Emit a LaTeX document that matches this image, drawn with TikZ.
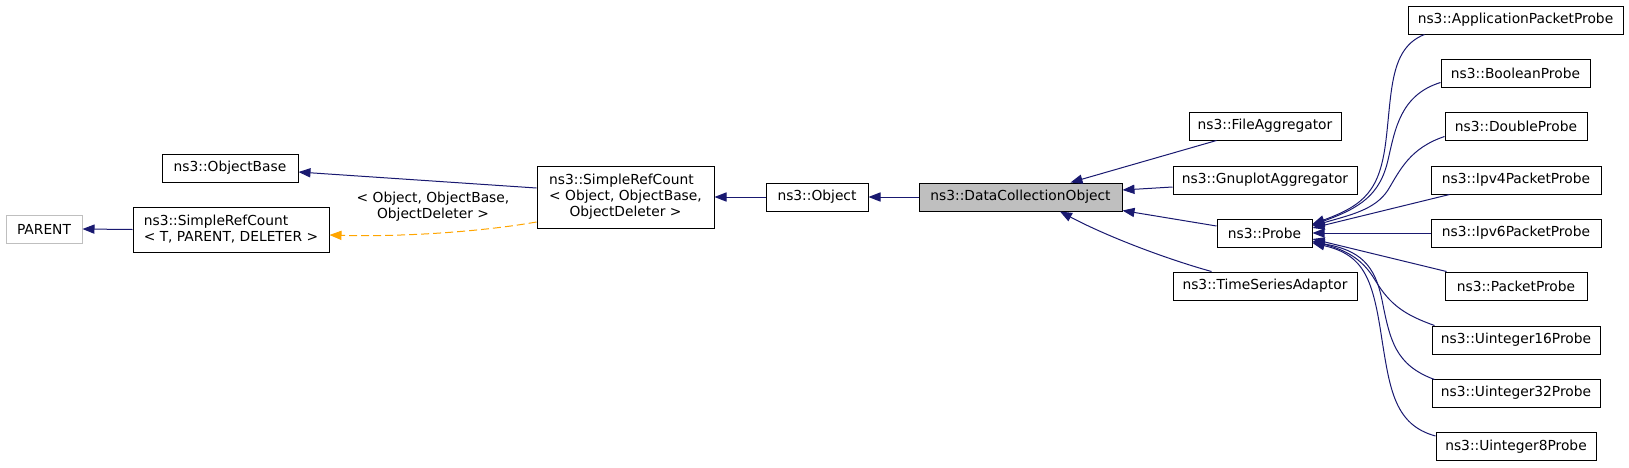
\documentclass[tikz,border=0pt]{standalone}
\usepackage{fontspec}
\setmainfont{DejaVu Sans}
\usetikzlibrary{arrows.meta,calc}
\definecolor{edgeblue}{HTML}{191970}
\definecolor{dorange}{HTML}{FFA500}
\definecolor{gfill}{HTML}{BFBFBF}
\begin{document}
\begin{tikzpicture}[x=0.5pt,y=-0.5pt,
  box/.style={draw=black, line width=0.5pt, inner sep=0pt, minimum height=14pt, font=\fontsize{6.9}{8}\selectfont},
  edge/.style={draw=edgeblue, line width=0.5pt, -{Triangle[length=6pt,width=4.6pt]}, fill=none},
  dedge/.style={draw=dorange, line width=0.5pt, dash pattern=on 4pt off 2pt, -{Triangle[length=6pt,width=4.6pt,fill=dorange]}},
  lbl/.style={inner sep=0pt, align=center, font=\fontsize{6.9}{8}\selectfont}]
\useasboundingbox (0,0) rectangle (1629,467);
% nodes
\node[box, draw=gfill, minimum width=38pt] (parent) at (44,229) {PARENT};
\node[box, minimum width=98pt, minimum height=22.5pt, align=left] (srct) at (231,229.5) {ns3::SimpleRefCount\\< T, PARENT, DELETER >};
\node[box, minimum width=68pt] (objbase) at (230,168) {ns3::ObjectBase};
\node[box, minimum width=88.5pt, minimum height=31pt] (srco) at (625.5,197) {\begin{tabular}{@{}l@{}}ns3::SimpleRefCount\\< Object, ObjectBase,\\\multicolumn{1}{@{}c@{}}{ObjectDeleter >}\end{tabular}};
\node[box, minimum width=51pt] (object) at (817,197) {ns3::Object};
\node[box, fill=gfill, minimum width=101.5pt] (dco) at (1020.5,197) {ns3::DataCollectionObject};
\node[box, minimum width=76pt] (fagg) at (1265,126) {ns3::FileAggregator};
\node[box, minimum width=92pt] (gagg) at (1265,180) {ns3::GnuplotAggregator};
\node[box, minimum width=47.5pt] (probe) at (1264.5,233) {ns3::Probe};
\node[box, minimum width=92pt] (tsa) at (1265,286) {ns3::TimeSeriesAdaptor};
\node[box, minimum width=107.5pt] (app) at (1515.5,20) {ns3::ApplicationPacketProbe};
\node[box, minimum width=74.5pt] (bool) at (1515.5,73) {ns3::BooleanProbe};
\node[box, minimum width=71pt] (dbl) at (1516,126) {ns3::DoubleProbe};
\node[box, minimum width=85pt] (ipv4) at (1516,180) {ns3::Ipv4PacketProbe};
\node[box, minimum width=85pt] (ipv6) at (1516,233) {ns3::Ipv6PacketProbe};
\node[box, minimum width=71pt] (pkt) at (1516,286) {ns3::PacketProbe};
\node[box, minimum width=84pt] (u16) at (1516,340) {ns3::Uinteger16Probe};
\node[box, minimum width=84pt] (u32) at (1516,393) {ns3::Uinteger32Probe};
\node[box, minimum width=80pt] (u8) at (1516,446.5) {ns3::Uinteger8Probe};
\node[lbl] (tlabel) at (433,207) {< Object, ObjectBase,\\ObjectDeleter >};
% left edges
\draw[edge] (srct.west) -- (parent.east);
\draw[edge] ($(srco.west)+(0,-9)$) -- ($(objbase.east)+(0,4)$);
\draw[dedge] ($(srco.west)+(0,25)$) .. controls (480,232) and (400,237) .. ($(srct.east)+(0,5.5)$);
\draw[edge] (object.west) -- (srco.east);
\draw[edge] (dco.west) -- (object.east);
% DCO children
\draw[edge] ($(fagg.south west)+(28,0)$) -- ($(dco.north east)+(-52,0)$);
\draw[edge] ($(gagg.west)+(0,7)$) -- ($(dco.east)+(0,-7)$);
\draw[edge] ($(probe.west)+(0,-7)$) -- ($(dco.south east)+(0,-1)$);
\draw[edge] ($(tsa.north west)+(39,0)$) .. controls (1170,260) and (1110,238) .. ($(dco.south)+(39.5,0)$);
% Probe children
\draw[edge] ($(app.south west)+(17,0)$) .. controls (1390,48) and (1392,90) .. (1386,140) .. controls (1380,190) and (1365,205) .. ($(probe.east)+(0,-9)$);
\draw[edge] ($(bool.south west)+(0,-5)$) .. controls (1400,95) and (1395,130) .. (1388,160) .. controls (1380,195) and (1360,208) .. ($(probe.east)+(0,-8)$);
\draw[edge] ($(dbl.south west)+(0,-4)$) .. controls (1410,148) and (1400,170) .. (1388,190) .. controls (1375,210) and (1350,215) .. ($(probe.east)+(0,-7)$);
\draw[edge] ($(ipv4.south west)+(19,0)$) -- ($(probe.east)+(0,-5)$);
\draw[edge] (ipv6.west) -- (probe.east);
\draw[edge] ($(pkt.north west)+(2,0)$) -- ($(probe.east)+(0,6)$);
\draw[edge] ($(u16.north west)+(3,0)$) .. controls (1405,315) and (1390,305) .. (1375,280) .. controls (1362,258) and (1345,250) .. ($(probe.east)+(0,8)$);
\draw[edge] ($(u32.north west)+(3,1)$) .. controls (1395,365) and (1390,340) .. (1382,300) .. controls (1375,265) and (1360,250) .. ($(probe.east)+(0,9)$);
\draw[edge] ($(u8.north west)+(0,4)$) .. controls (1395,425) and (1390,390) .. (1382,340) .. controls (1373,280) and (1365,255) .. ($(probe.east)+(0,10)$);
\end{tikzpicture}
\end{document}
